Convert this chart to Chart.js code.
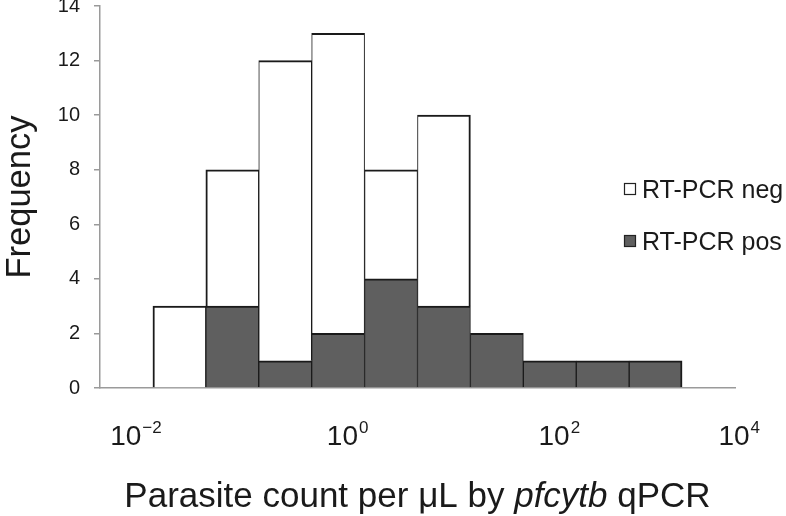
<!DOCTYPE html>
<html>
<head>
<meta charset="utf-8">
<script src="https://cdn.jsdelivr.net/npm/chart.js@4.4.1/dist/chart.umd.min.js"></script>
<style>
  body { margin: 0; background: #fff; }
  #chart_canvas { display: block; }
</style>
</head>
<body>
<canvas id="chart_canvas" width="786" height="516"></canvas>
<script>
// half-decade bins (log10 of bin centre), first and last bins are empty
var bins = ['-2.1', '-1.6', '-1.1', '-0.6', '-0.1', '0.4', '0.9', '1.4', '1.9', '2.4', '2.9', '3.4'];
var pos_counts = [0, 0, 3, 1, 2, 4, 3, 2, 1, 1, 1, 0];
var neg_counts = [0, 3, 5, 11, 11, 4, 7, 0, 0, 0, 0, 0];
var tick_exponents = [-2, 0, 2, 4];

// the 12 bins cover log10 -2.34 .. 3.66 (half a decade each)
var log_min = -2.34;
var log_max = 3.66;

var text_color = '#1a1a1a';
var axis_color = '#9a9a9a';
var font_family = '"Liberation Sans", Arial, Helvetica, sans-serif';

Chart.defaults.font.family = font_family;
Chart.defaults.color = text_color;

function total_at(i){
    if (i < 0 || i >= bins.length) return 0;
    return pos_counts[i] + neg_counts[i];
}

// outer edges of the histogram get a heavier line, shared edges a thin one on each side
function bar_border(c){
    var i = c.dataIndex;
    var lo = c.datasetIndex == 0 ? 0 : pos_counts[i];
    var left = total_at(i - 1) <= lo ? 2 : 1;
    var right = total_at(i + 1) <= lo ? 2 : 1;
    return {top: 2, left: left, right: right, bottom: 0};
}

// legend drawn inside the plot, right side (like the original)
var legend_plugin = {
    id: 'inside_legend',
    afterDraw: function(chart){
        var ctx = chart.ctx;
        var area = chart.chartArea;
        var x = area.right - 111;
        var y = area.top + 177;
        var order = [1, 0]; // neg first, then pos
        ctx.save();
        ctx.font = '25px ' + font_family;
        ctx.textBaseline = 'alphabetic';
        ctx.textAlign = 'left';
        for (var i = 0; i < order.length; i++){
            var ds = chart.data.datasets[order[i]];
            var yy = y + i * 52;
            ctx.fillStyle = ds.backgroundColor;
            ctx.fillRect(x, yy, 12, 12);
            ctx.lineWidth = 1.2;
            ctx.strokeStyle = '#222';
            ctx.strokeRect(x + 0.5, yy + 0.5, 11, 11);
            ctx.fillStyle = text_color;
            ctx.fillText(ds.label, x + 18, yy + 15);
        }
        ctx.restore();
    }
};

// power-of-ten tick labels with real superscripts, placed along the x scale
var power_ticks_plugin = {
    id: 'power_ticks',
    afterDraw: function(chart){
        var scale = chart.scales.x;
        var ctx = chart.ctx;
        var base_y = chart.chartArea.bottom + 57;
        ctx.save();
        ctx.fillStyle = text_color;
        ctx.textBaseline = 'alphabetic';
        ctx.textAlign = 'left';
        tick_exponents.forEach(function(e){
            // 10^4 is pulled in so it stays on the page, as in the original
            var at = Math.min(e, 3.7);
            var sup = (e < 0 ? '\u2212' : '') + Math.abs(e);
            ctx.font = '28px ' + font_family;
            var w1 = ctx.measureText('10').width;
            ctx.font = '17px ' + font_family;
            var w2 = ctx.measureText(sup).width;
            var cx = scale.getPixelForDecimal((at - log_min) / (log_max - log_min));
            var x = cx - (w1 + 1 + w2) / 2;
            ctx.font = '28px ' + font_family;
            ctx.fillText('10', x, base_y);
            ctx.font = '17px ' + font_family;
            ctx.fillText(sup, x + w1 + 1, base_y - 12);
        });
        ctx.restore();
    }
};

// x axis title with the italic gene name
var xtitle_plugin = {
    id: 'x_title',
    afterDraw: function(chart){
        var ctx = chart.ctx;
        var area = chart.chartArea;
        var parts = [
            {t: 'Parasite count per \u03BCL by ', f: '35px ' + font_family},
            {t: 'pfcytb', f: 'italic 35px ' + font_family},
            {t: ' qPCR', f: '35px ' + font_family}
        ];
        ctx.save();
        var total = 0;
        parts.forEach(function(p){ ctx.font = p.f; p.w = ctx.measureText(p.t).width; total += p.w; });
        var x = (area.left + area.right) / 2 - total / 2;
        ctx.fillStyle = text_color;
        ctx.textBaseline = 'alphabetic';
        ctx.textAlign = 'left';
        parts.forEach(function(p){ ctx.font = p.f; ctx.fillText(p.t, x, area.bottom + 119); x += p.w; });
        ctx.restore();
    }
};

function init_chart(){
    var ctx = document.getElementById('chart_canvas').getContext('2d');
    new Chart(ctx, {
        type: 'bar',
        data: {
            labels: bins,
            datasets: [{
                label: 'RT-PCR pos',
                data: pos_counts,
                backgroundColor: '#5f5f5f',
                borderColor: '#1a1a1a',
                borderWidth: bar_border,
                borderSkipped: false,
                categoryPercentage: 1,
                barPercentage: 1
            },{
                label: 'RT-PCR neg',
                data: neg_counts,
                backgroundColor: '#ffffff',
                borderColor: '#1a1a1a',
                borderWidth: bar_border,
                borderSkipped: false,
                categoryPercentage: 1,
                barPercentage: 1
            }]
        },
        options: {
            responsive: false,
            animation: false,
            layout: { padding: { top: 6, right: 51, bottom: 0, left: 0 } },
            plugins: {
                legend: { display: false },
                tooltip: { enabled: false }
            },
            scales: {
                x: {
                    stacked: true,
                    grid: { display: false, drawTicks: false },
                    border: { display: true, color: axis_color, width: 1.5 },
                    ticks: { display: false },
                    afterFit: function(scale){
                        scale.height = 128;
                        scale.paddingLeft = 0;
                        scale.paddingRight = 0;
                    }
                },
                y: {
                    stacked: true,
                    min: 0,
                    max: 14,
                    grid: { drawOnChartArea: false, drawTicks: true, tickLength: 6, color: axis_color, lineWidth: 1.5 },
                    border: { display: true, color: axis_color, width: 1.5 },
                    ticks: {
                        stepSize: 2,
                        padding: 14,
                        color: text_color,
                        font: { size: 20 }
                    },
                    title: {
                        display: true,
                        text: 'Frequency',
                        color: text_color,
                        font: { size: 34.5 },
                        padding: { top: 0, bottom: 0 }
                    },
                    afterFit: function(scale){
                        scale.width = 100;
                        scale.paddingTop = 0;
                        scale.paddingBottom = 0;
                    }
                }
            }
        },
        plugins: [legend_plugin, power_ticks_plugin, xtitle_plugin]
    });
}

init_chart();
</script>
</body>
</html>
